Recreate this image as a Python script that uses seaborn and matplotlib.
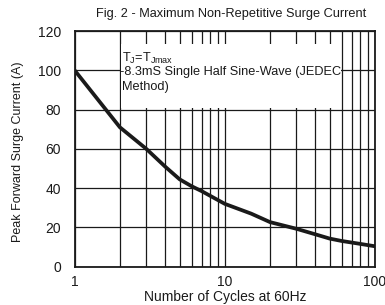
import matplotlib

matplotlib.use("Agg")
import matplotlib.pyplot as plt
import matplotlib.ticker as ticker
from matplotlib.patches import Rectangle
import pandas as pd
import seaborn as sns

# curve
cycles = [1, 2, 3, 4, 5, 6, 7, 10, 15, 20, 30, 40, 50, 60, 80, 100]
surge_current = [100, 71, 60, 51, 44.5, 41, 38.5, 32, 27, 22.7, 19.3, 16.5, 14.3, 13.1, 11.6, 10.4]

y_ticks = [0, 20, 40, 60, 80, 100, 120]
x_ticks = [1, 10, 100]

sns.set_style("white")
plt.rcParams["font.family"] = ["Liberation Sans", "DejaVu Sans"]
plt.rcParams["mathtext.fontset"] = "custom"
plt.rcParams["mathtext.rm"] = "Liberation Sans"
plt.rcParams["mathtext.it"] = "Liberation Sans"

ink = "#1a1a1a"

data = pd.DataFrame({"cycles": cycles, "current": surge_current})

fig = plt.figure(figsize=(3.85, 3.05), dpi=100)
ax = fig.add_axes([0.194, 0.1256, 0.78, 0.7725])

sns.lineplot(data=data, x="cycles", y="current", ax=ax, color=ink, linewidth=2.7, zorder=5)

ax.set_xscale("log")
ax.set_xlim(1, 100)
ax.set_ylim(0, 120)
ax.set_yticks(y_ticks)
ax.xaxis.set_major_locator(ticker.FixedLocator(x_ticks))
ax.xaxis.set_major_formatter(ticker.FixedFormatter([str(v) for v in x_ticks]))
ax.xaxis.set_minor_locator(ticker.LogLocator(base=10, subs=range(2, 10)))
ax.xaxis.set_minor_formatter(ticker.NullFormatter())

ax.grid(True, which="both", axis="x", color=ink, linewidth=0.9, zorder=1)
ax.grid(True, which="major", axis="y", color=ink, linewidth=0.9, zorder=1)
ax.set_axisbelow(True)

ax.tick_params(which="both", length=0, labelsize=10, colors=ink)
ax.tick_params(axis="x", pad=6)
ax.tick_params(axis="y", pad=10)

for s in ax.spines.values():
    s.set_color(ink)
    s.set_linewidth(1.3)
    s.set_visible(True)

# white panel behind the note, hides the grid there
ax.add_patch(Rectangle((2.05, 81), 59 - 2.05, 113.5 - 81, facecolor="white",
                       edgecolor="none", zorder=2))

note = dict(fontsize=9.2, color=ink, zorder=3, va="baseline")
ax.text(2.08, 104.4, r"T$_{\rm J}$=T$_{\rm Jmax}$", **note)
ax.text(2.0, 97.6, "-8.3mS Single Half Sine-Wave (JEDEC", **note)
ax.text(2.08, 90, "Method)", **note)

ax.set_xlabel("Number of Cycles at 60Hz", fontsize=10, color=ink, labelpad=1)
ax.set_ylabel("Peak Forward Surge Current (A)", fontsize=9, color=ink)
ax.yaxis.set_label_coords(-0.17, 0.487)
fig.text(0.6, 0.955, "Fig. 2 - Maximum Non-Repetitive Surge Current", fontsize=9.2,
         color=ink, ha="center", va="center")

fig.savefig("out.png", dpi=100, facecolor="w")
plt.close()
